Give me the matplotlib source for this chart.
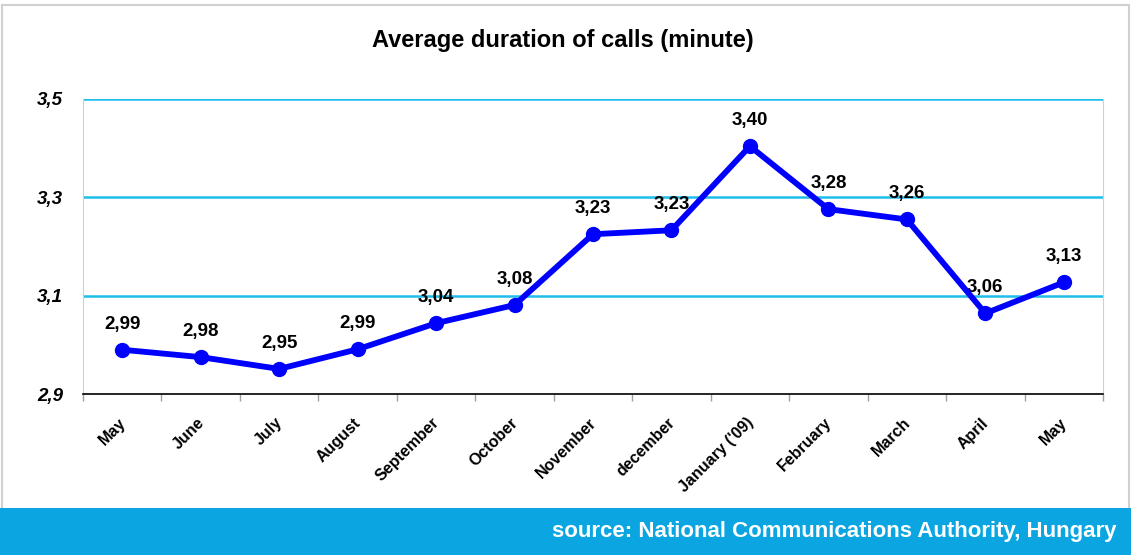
import matplotlib
matplotlib.use("Agg")
import matplotlib.pyplot as plt
from matplotlib.patches import Rectangle
from matplotlib.ticker import FixedLocator
from matplotlib.transforms import ScaledTranslation

months = ["May", "June", "July", "August", "September", "October", "November",
          "december", "January ('09)", "February", "March", "April", "May"]
values = [2.99, 2.975, 2.951, 2.991, 3.044, 3.081, 3.225, 3.233, 3.404, 3.276, 3.255, 3.064, 3.127]
value_labels = ["2,99", "2,98", "2,95", "2,99", "3,04", "3,08", "3,23", "3,23", "3,40", "3,28", "3,26", "3,06", "3,13"]
y_ticks = [2.9, 3.1, 3.3, 3.5]
y_tick_labels = ["2,9", "3,1", "3,3", "3,5"]

plt.rcParams['font.family'] = ['Liberation Sans', 'DejaVu Sans']

W, H = 1131, 555
fig = plt.figure(figsize=(W / 100, H / 100), dpi=100)

# outer border
fig.patches.append(Rectangle((2 / W, 0), (W - 4) / W, (H - 5) / H, transform=fig.transFigure,
                             fill=False, edgecolor='#d0d0d0', linewidth=1.5, zorder=0))
# bottom banner
fig.patches.append(Rectangle((0, 0), 1, 47 / H, transform=fig.transFigure,
                             facecolor='#0ba5e2', edgecolor='none', zorder=1))
fig.text(1117 / W, 1 - 531 / H, "source: National Communications Authority, Hungary",
         color='white', fontsize=16, fontweight='bold', ha='right', va='center', zorder=5)

left, right, top, bottom = 83, 1103, 99, 394
ax = fig.add_axes([left / W, 1 - bottom / H, (right - left) / W, (bottom - top) / H])

x = list(range(len(months)))
ax.plot(x, values, color='#0000ff', linewidth=4.2, marker='o', markersize=10,
        zorder=5, clip_on=False)
for xi, v, lab in zip(x, values, value_labels):
    ax.annotate(lab, (xi, v), xytext=(0, 18.5), textcoords='offset points',
                ha='center', va='center', fontsize=13.5, fontweight='bold', color='black')

ax.set_xlim(-0.5, len(months) - 0.5)
ax.set_ylim(2.9, 3.5)
ax.set_yticks(y_ticks)
ax.set_yticklabels(y_tick_labels, fontsize=13.5, fontweight='bold', fontstyle='italic')
ax.tick_params(axis='y', length=0, pad=14.4)
for yv in y_ticks[1:]:
    ax.axhline(yv, color='#1ebdea', linewidth=1.8, zorder=1)

ax.set_xticks(x)
ax.set_xticklabels(months, rotation=45, ha='right', va='center', rotation_mode='anchor',
                   fontsize=11.5, fontweight='bold')
ax.tick_params(axis='x', which='major', length=0, pad=19)
offset = ScaledTranslation(1 / 100, 0, fig.dpi_scale_trans)
for lbl in ax.get_xticklabels():
    lbl.set_transform(lbl.get_transform() + offset)
ax.xaxis.set_minor_locator(FixedLocator([i - 0.5 for i in range(len(months) + 1)]))
ax.tick_params(axis='x', which='minor', length=5, color='#a0a0a0', width=1)

ax.spines['top'].set_visible(False)
ax.spines['left'].set_color('#d0d0d0')
ax.spines['right'].set_color('#d0d0d0')
ax.spines['bottom'].set_color('black')
ax.spines['bottom'].set_linewidth(1.2)

fig.text(563 / W, 1 - 41 / H, "Average duration of calls (minute)", fontsize=17,
         fontweight='bold', ha='center', va='center')

fig.savefig("out.png", dpi=100)
